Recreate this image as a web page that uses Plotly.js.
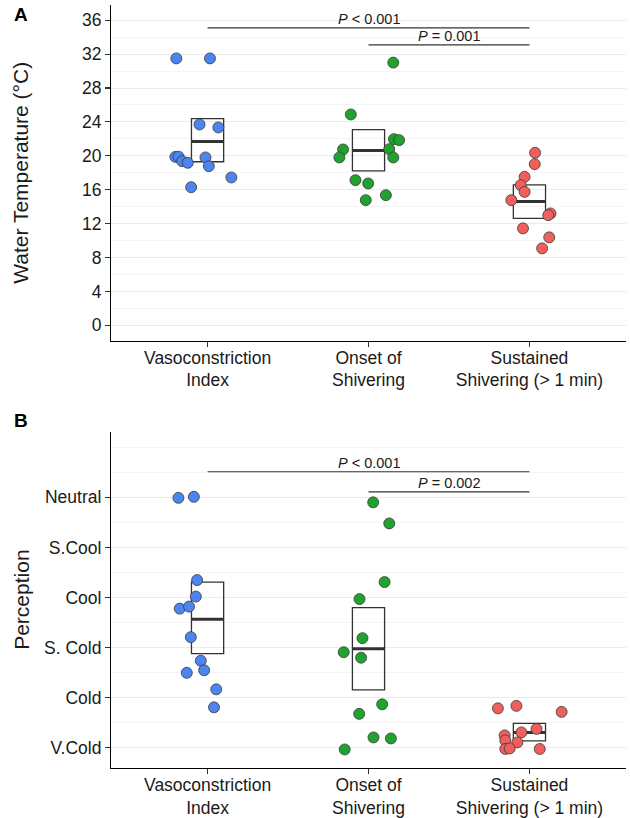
<!DOCTYPE html>
<html>
<head>
<meta charset="utf-8">
<script src="https://cdn.plot.ly/plotly-3.0.1.min.js"></script>
<style>html,body{margin:0;padding:0;background:#fff;}#chart{width:630px;height:818px;}</style>
</head>
<body>
<div id="chart"></div>
<script>
// ---------- data ----------
const categories = ["Vasoconstriction<br>Index", "Onset of<br>Shivering", "Sustained<br>Shivering (> 1 min)"];

// Panel A: water temperature (°C)
const tempVaso  = [31.5, 31.5, 23.7, 23.35, 19.88, 19.9, 19.37, 19.18, 19.81, 18.78, 17.45, 16.3];
const tempOnset = [31.0, 24.88, 21.97, 21.85, 20.75, 20.79, 19.81, 19.81, 17.13, 16.74, 15.36, 14.77];
const tempSust  = [20.36, 19.02, 17.52, 16.54, 15.75, 14.77, 13.2, 13.0, 11.44, 10.38, 9.08];
const jitTempVaso  = [-0.194, 0.015, -0.05, 0.067, -0.2, -0.18, -0.158, -0.123, -0.013, 0.008, 0.148, -0.102];
const jitTempOnset = [0.154, -0.11, 0.158, 0.19, -0.158, 0.129, -0.181, 0.154, -0.081, -0.002, 0.108, -0.017];
const jitTempSust  = [0.035, 0.033, -0.03, -0.054, -0.03, -0.1125, 0.131, 0.117, -0.04, 0.123, 0.079];
const tempBoxLow  = [19.3, 18.23, 12.62];
const tempBoxMean = [21.7, 20.63, 14.62];
const tempBoxHigh = [24.4, 23.1, 16.58];
const tempTicks = [0, 4, 8, 12, 16, 20, 24, 28, 32, 36];

// Panel B: perception (1 = V.Cold ... 6 = Neutral)
const perceptionLabels = ["V.Cold", "Cold", "S. Cold", "Cool", "S.Cool", "Neutral"];
const percLevels = [1, 2, 3, 4, 5, 6];
const percVaso  = [5.99, 6.01, 4.35, 4.02, 3.78, 3.82, 3.21, 2.74, 2.50, 2.55, 2.17, 1.81];
const percOnset = [5.90, 5.48, 4.31, 3.97, 3.19, 2.91, 2.80, 1.87, 1.68, 1.21, 1.19, 0.97];
const percSust  = [1.79, 1.84, 1.72, 1.38, 1.31, 1.25, 1.15, 1.11, 0.98, 0.99, 0.98];
const jitPercVaso  = [-0.181, -0.085, -0.065, -0.073, -0.173, -0.115, -0.104, -0.042, -0.129, -0.021, 0.054, 0.04];
const jitPercOnset = [0.029, 0.129, 0.1, -0.056, -0.0375, -0.154, -0.046, 0.085, -0.058, 0.031, 0.139, -0.148];
const jitPercSust  = [-0.196, -0.081, 0.2, 0.044, -0.05, -0.154, -0.15, -0.075, -0.15, -0.123, 0.064];
const percBoxLow  = [2.88, 2.16, 1.14];
const percBoxMean = [3.57, 2.98, 1.31];
const percBoxHigh = [4.31, 3.80, 1.49];

// significance brackets
const tempBracketFrom = [0, 1], tempBracketTo = [2, 2], tempBracketY = [35.1, 33.1], tempBracketText = ["< 0.001", "= 0.001"];
const percBracketFrom = [0, 1], percBracketTo = [2, 2], percBracketY = [6.51, 6.11], percBracketText = ["< 0.001", "= 0.002"];

// ---------- styling ----------
const colors = ["#4C84F0", "#1FA22E", "#EF5F5B"];
const FONT = "Liberation Sans, Arial, Helvetica, sans-serif";
const txtColor = "#1a1a1a";

function pointsTrace(vals, jit, cat, xa, ya) {
  return {
    type: "scatter", mode: "markers",
    x: vals.map((v, i) => cat + jit[i]), y: vals,
    xaxis: xa, yaxis: ya, hoverinfo: "y",
    marker: {size: 11, color: colors[cat], line: {color: "#3a3a3a", width: 0.8}},
    showlegend: false
  };
}

const data = [
  pointsTrace(tempVaso, jitTempVaso, 0, "x", "y"),
  pointsTrace(tempOnset, jitTempOnset, 1, "x", "y"),
  pointsTrace(tempSust, jitTempSust, 2, "x", "y"),
  pointsTrace(percVaso, jitPercVaso, 0, "x2", "y2"),
  pointsTrace(percOnset, jitPercOnset, 1, "x2", "y2"),
  pointsTrace(percSust, jitPercSust, 2, "x2", "y2")
];

const shapes = [];
const annotations = [];
const halfW = 0.1;
function addBoxes(low, mean, high, xr, yr) {
  for (let i = 0; i < low.length; i++) {
    shapes.push({type: "rect", xref: xr, yref: yr, x0: i - halfW, x1: i + halfW, y0: low[i], y1: high[i],
      line: {color: "#333", width: 1.3}, fillcolor: "rgba(255,255,255,0)", layer: "between"});
    shapes.push({type: "line", xref: xr, yref: yr, x0: i - halfW, x1: i + halfW, y0: mean[i], y1: mean[i],
      line: {color: "#333", width: 3}, layer: "between"});
  }
}
addBoxes(tempBoxLow, tempBoxMean, tempBoxHigh, "x", "y");
addBoxes(percBoxLow, percBoxMean, percBoxHigh, "x2", "y2");

function addBrackets(from, to, ys, texts, xr, yr) {
  for (let i = 0; i < from.length; i++) {
    shapes.push({type: "line", xref: xr, yref: yr, x0: from[i], x1: to[i], y0: ys[i], y1: ys[i],
      line: {color: "#333", width: 1.2}});
    annotations.push({xref: xr, yref: yr, x: (from[i] + to[i]) / 2, y: ys[i], yanchor: "bottom", yshift: -1,
      text: "<i>P</i> " + texts[i].replace("<", "&lt;"), showarrow: false,
      font: {family: FONT, size: 14.5, color: txtColor}});
  }
}
addBrackets(tempBracketFrom, tempBracketTo, tempBracketY, tempBracketText, "x", "y");
addBrackets(percBracketFrom, percBracketTo, percBracketY, percBracketText, "x2", "y2");

// panel letters and y titles
const domA = [0.5602, 1], domB = [0, 0.4408];
annotations.push({xref: "paper", yref: "paper", x: -0.175, y: 0.987, text: "<b>A</b>", showarrow: false,
  xanchor: "center", yanchor: "middle", font: {family: FONT, size: 19, color: "#000"}});
annotations.push({xref: "paper", yref: "paper", x: -0.175, y: 0.456, text: "<b>B</b>", showarrow: false,
  xanchor: "center", yanchor: "middle", font: {family: FONT, size: 19, color: "#000"}});
annotations.push({xref: "paper", yref: "paper", x: 0, xshift: -90, y: (domA[0] + domA[1]) / 2, textangle: -90,
  xanchor: "center", yanchor: "middle", text: "Water Temperature (°C)", showarrow: false,
  font: {family: FONT, size: 21, color: txtColor}});
annotations.push({xref: "paper", yref: "paper", x: 0, xshift: -89, y: (domB[0] + domB[1]) / 2, textangle: -90,
  xanchor: "center", yanchor: "middle", text: "Perception", showarrow: false,
  font: {family: FONT, size: 21, color: txtColor}});

const axisCommon = {
  showline: true, linecolor: "#000", linewidth: 1.1, ticks: "outside", ticklen: 5, tickwidth: 1.1,
  tickcolor: "#333", tickfont: {family: FONT, size: 17.5, color: txtColor}, zeroline: false, fixedrange: true
};
const xCommon = Object.assign({}, axisCommon, {
  range: [-0.6, 2.6], tickmode: "array", tickvals: [0, 1, 2], ticktext: categories, showgrid: false,
  tickfont: {family: FONT, size: 17.5, color: txtColor}, ticklabelstandoff: -4
});

const layout = {
  width: 630, height: 818,
  margin: {l: 111, r: 4, t: 5, b: 50},
  paper_bgcolor: "#fff", plot_bgcolor: "#fff",
  showlegend: false,
  xaxis: Object.assign({}, xCommon, {anchor: "y"}),
  xaxis2: Object.assign({}, xCommon, {anchor: "y2"}),
  yaxis: Object.assign({}, axisCommon, {
    domain: domA, anchor: "x", range: [-1.8, 37.8], tickmode: "array", tickvals: tempTicks,
    showgrid: true, gridcolor: "#ebebeb", gridwidth: 1,
    minor: {dtick: 2, tick0: 0, showgrid: true, gridcolor: "#f3f3f3", gridwidth: 0.8, ticks: ""}
  }),
  yaxis2: Object.assign({}, axisCommon, {
    domain: domB, anchor: "x2", range: [0.6, 7.31], tickmode: "array", tickvals: percLevels,
    ticktext: perceptionLabels,
    showgrid: true, gridcolor: "#ebebeb", gridwidth: 1,
    minor: {tickmode: "array", tickvals: [1.5, 2.5, 3.5, 4.5, 5.5, 6.5, 7], showgrid: true, gridcolor: "#f3f3f3", gridwidth: 0.8, ticks: ""}
  }),
  shapes: shapes,
  annotations: annotations
};

Plotly.newPlot("chart", data, layout, {displayModeBar: false, staticPlot: true});
</script>
</body>
</html>
